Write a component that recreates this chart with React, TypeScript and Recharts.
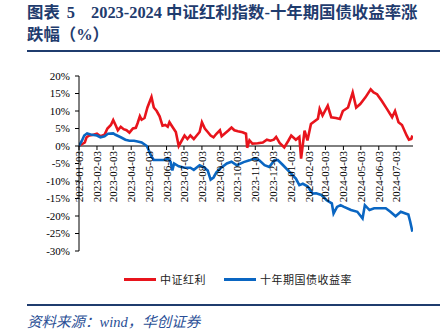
import { LineChart, Line, XAxis, YAxis, ReferenceLine } from "recharts";

// ================= DATA =================
const monthTicks = [
  "2023-01-03", "2023-02-03", "2023-03-03", "2023-04-03", "2023-05-03",
  "2023-06-03", "2023-07-03", "2023-08-03", "2023-09-03", "2023-10-03",
  "2023-11-03", "2023-12-03", "2024-01-03", "2024-02-03", "2024-03-03",
  "2024-04-03", "2024-05-03", "2024-06-03", "2024-07-03",
];
const yTicks = [-30, -25, -20, -15, -10, -5, 0, 5, 10, 15, 20];
const seriesNames = ["中证红利", "十年期国债收益率"];

// 中证红利 (%)
const dividend: [string, number][] = [
  ["2023-01-03", 0], ["2023-01-08", 0.5], ["2023-01-13", 1], ["2023-01-16", 2.5],
  ["2023-01-21", 3], ["2023-01-28", 3.2], ["2023-02-03", 3.5], ["2023-02-09", 2.8],
  ["2023-02-16", 3.2], ["2023-02-21", 5], ["2023-02-27", 6], ["2023-03-03", 7.4],
  ["2023-03-07", 6], ["2023-03-11", 4.5], ["2023-03-16", 5.5], ["2023-03-21", 4.8],
  ["2023-03-26", 4.5], ["2023-03-31", 3.8], ["2023-04-06", 5], ["2023-04-11", 5.2],
  ["2023-04-14", 6.5], ["2023-04-18", 8.5], ["2023-04-21", 7.5], ["2023-04-26", 8],
  ["2023-05-01", 11], ["2023-05-08", 14], ["2023-05-12", 11], ["2023-05-17", 10],
  ["2023-05-22", 8.5], ["2023-05-27", 5.8], ["2023-06-01", 6], ["2023-06-05", 5.5],
  ["2023-06-08", 6.8], ["2023-06-13", 5.5], ["2023-06-19", 4], ["2023-06-24", 0],
  ["2023-06-29", 1.5], ["2023-07-04", 3], ["2023-07-09", 2], ["2023-07-14", 3],
  ["2023-07-20", 2], ["2023-07-25", 3], ["2023-07-30", 4], ["2023-08-03", 6.8],
  ["2023-08-08", 5], ["2023-08-13", 4], ["2023-08-18", 3], ["2023-08-23", 2.5],
  ["2023-08-28", 3.5], ["2023-09-03", 4.5], ["2023-09-06", 2.8], ["2023-09-11", 3.5],
  ["2023-09-18", 4.5], ["2023-09-23", 5.3], ["2023-09-28", 4.5], ["2023-10-04", 4.2],
  ["2023-10-12", 3.9], ["2023-10-18", 3.5], ["2023-10-20", -0.5], ["2023-10-24", 1.6],
  ["2023-10-29", 0.7], ["2023-11-07", 0.8], ["2023-11-16", 1], ["2023-11-23", 1.8],
  ["2023-11-29", 1.5], ["2023-12-05", 1.8], ["2023-12-09", 2.6], ["2023-12-15", 0.9],
  ["2023-12-23", -0.4], ["2023-12-30", 1.5], ["2024-01-04", 3], ["2024-01-12", 1.8],
  ["2024-01-18", 2.6], ["2024-01-21", -3.6], ["2024-01-27", 4.4], ["2024-02-01", 1.6],
  ["2024-02-07", 6.3], ["2024-02-19", 7.8], ["2024-02-22", 10.6], ["2024-02-27", 8.7],
  ["2024-03-07", 11.5], ["2024-03-13", 8.2], ["2024-03-21", 8], ["2024-03-28", 7.7],
  ["2024-04-02", 10], ["2024-04-11", 11], ["2024-04-19", 15.3], ["2024-04-25", 11],
  ["2024-05-02", 12], ["2024-05-11", 13.9], ["2024-05-20", 16.2], ["2024-05-25", 15.3],
  ["2024-05-31", 14.8], ["2024-06-08", 12.9], ["2024-06-17", 10.6], ["2024-06-26", 8.2],
  ["2024-07-01", 10], ["2024-07-07", 6.8], ["2024-07-13", 6], ["2024-07-21", 3],
  ["2024-07-25", 1.8], ["2024-07-29", 2], ["2024-07-31", 3],
];

// 十年期国债收益率 (%)
const bondYield: [string, number][] = [
  ["2023-01-03", 0], ["2023-01-08", 1.5], ["2023-01-12", 3], ["2023-01-17", 3.6],
  ["2023-01-23", 3.3], ["2023-02-03", 3], ["2023-02-09", 2.5], ["2023-02-16", 2.8],
  ["2023-02-22", 3.5], ["2023-03-03", 3.6], ["2023-03-07", 3.2], ["2023-03-16", 2.5],
  ["2023-03-24", 1.8], ["2023-03-31", 1.5], ["2023-04-08", 1.5], ["2023-04-14", 1.3],
  ["2023-04-21", 1], ["2023-04-30", 0], ["2023-05-04", -1.5], ["2023-05-08", -3],
  ["2023-05-12", -4], ["2023-05-22", -4], ["2023-06-01", -4], ["2023-06-05", -3.5],
  ["2023-06-10", -4.5], ["2023-06-13", -7], ["2023-06-16", -5], ["2023-06-24", -5.8],
  ["2023-07-04", -6.2], ["2023-07-14", -6.2], ["2023-07-20", -6.8], ["2023-07-30", -5.5],
  ["2023-08-06", -6], ["2023-08-13", -7], ["2023-08-18", -9.6], ["2023-08-23", -9],
  ["2023-08-28", -7.5], ["2023-09-03", -6.5], ["2023-09-15", -5], ["2023-09-23", -4.5],
  ["2023-10-02", -5.5], ["2023-10-14", -4.6], ["2023-10-24", -4.1], ["2023-11-01", -3.6],
  ["2023-11-10", -4.1], ["2023-11-19", -5.5], ["2023-11-27", -6], ["2023-12-06", -4.1],
  ["2023-12-12", -4], ["2023-12-21", -5.5], ["2024-01-01", -7.4], ["2024-01-12", -9.3],
  ["2024-01-18", -11.2], ["2024-01-24", -10.8], ["2024-02-01", -11.5], ["2024-02-10", -13.6],
  ["2024-02-16", -13.5], ["2024-02-25", -14], ["2024-03-05", -15.5], ["2024-03-14", -16.4],
  ["2024-03-17", -19.3], ["2024-03-23", -17.4], ["2024-03-29", -16.9], ["2024-04-04", -17.4],
  ["2024-04-16", -18.3], ["2024-04-27", -18.8], ["2024-05-06", -20.7], ["2024-05-10", -16.9],
  ["2024-05-18", -18.3], ["2024-05-26", -17.8], ["2024-06-05", -17.8], ["2024-06-15", -17.8],
  ["2024-06-23", -18.8], ["2024-07-02", -20.1], ["2024-07-11", -18.8], ["2024-07-19", -19.3],
  ["2024-07-24", -19.6], ["2024-07-27", -21.5], ["2024-07-31", -24.5],
];

const domainStart = "2023-01-03";
const domainEnd = "2024-08-01";

// ================= HELPERS =================
const toTime = (d: string) => Date.parse(d + "T00:00:00Z");
const toRows = (s: [string, number][]) => s.map(([d, v]) => ({ t: toTime(d), v }));

const RED = "#e8141c";
const BLUE = "#0a66c2";
const NAVY = "#1f3c6e";
const SOURCE_BLUE = "#2a4f96";
const SERIF = '"Liberation Serif", "Times New Roman", serif';
const CJK = '"Liberation Serif", "Noto Sans CJK SC", serif';

const TOP = 76;
const BOTTOM = 80;
const H = 332;
const PLOT_H = H - TOP - BOTTOM - 1;
const ZERO_Y = TOP + (PLOT_H * 20) / 50;

// eslint-disable-next-line
function DateTick({ x, payload }: any) {
  const d = new Date(payload.value).toISOString().slice(0, 10);
  return (
    <g>
      <line x1={x} x2={x} y1={ZERO_Y} y2={ZERO_Y + 4} stroke="#000" />
      <text
        x={x}
        y={ZERO_Y + 5}
        transform={`rotate(-90 ${x} ${ZERO_Y + 5})`}
        textAnchor="end"
        dominantBaseline="central"
        fontSize={11}
        fontFamily={SERIF}
        fill="#000"
      >
        {d}
      </text>
    </g>
  );
}

export default function App() {
  return (
    <div
      style={{
        position: "absolute",
        left: 0,
        top: 0,
        width: 446,
        height: 332,
        background: "#fff",
        overflow: "hidden",
      }}
    >
      {/* ================= TITLE ================= */}
      <div
        style={{
          position: "absolute",
          left: 27,
          top: 2,
          width: 420,
          fontFamily: CJK,
          fontWeight: 700,
          fontSize: 16.4,
          lineHeight: "22px",
          color: NAVY,
          whiteSpace: "nowrap",
        }}
      >
        <div>
          图表<span style={{ marginLeft: 7 }}>5</span>
          <span style={{ marginLeft: 16 }}>2023-2024 中证红利指数-十年期国债收益率涨</span>
        </div>
        <div>跌幅（%）</div>
      </div>
      <div
        style={{
          position: "absolute",
          left: 27,
          top: 50,
          width: 413,
          height: 2,
          background: NAVY,
        }}
      />

      {/* ================= CHART ================= */}
      <div style={{ position: "absolute", left: 0, top: 0 }}>
        <LineChart
          width={446}
          height={H}
          margin={{ top: TOP, right: 33, bottom: BOTTOM, left: 0 }}
        >
          <XAxis
            type="number"
            dataKey="t"
            domain={[toTime(domainStart), toTime(domainEnd)]}
            ticks={monthTicks.map(toTime)}
            tick={<DateTick />}
            axisLine={false}
            tickLine={false}
            height={1}
            interval={0}
            allowDataOverflow
          />
          <YAxis
            type="number"
            domain={[-30, 20]}
            ticks={yTicks}
            interval={0}
            width={79}
            tickFormatter={(v) => `${v}%`}
            tick={{ fontSize: 11, fontFamily: SERIF, fill: "#000" }}
            tickSize={4}
            tickMargin={5}
            axisLine={{ stroke: "#000" }}
            tickLine={{ stroke: "#000" }}
          />
          <ReferenceLine y={0} stroke="#000" strokeWidth={1} />
          <Line
            data={toRows(dividend)}
            dataKey="v"
            name={seriesNames[0]}
            stroke={RED}
            strokeWidth={2.6}
            dot={false}
            type="linear"
            isAnimationActive={false}
          />
          <Line
            data={toRows(bondYield)}
            dataKey="v"
            name={seriesNames[1]}
            stroke={BLUE}
            strokeWidth={2.6}
            dot={false}
            type="linear"
            isAnimationActive={false}
          />
        </LineChart>
      </div>

      {/* ================= LEGEND ================= */}
      <div
        style={{
          position: "absolute",
          left: 124,
          top: 271,
          display: "flex",
          alignItems: "center",
          fontFamily: '"Noto Sans CJK SC", sans-serif',
          fontSize: 11,
          color: "#222",
          whiteSpace: "nowrap",
        }}
      >
        <span style={{ width: 32, height: 3, background: RED, display: "inline-block" }} />
        <span style={{ marginLeft: 4, letterSpacing: 0.5 }}>{seriesNames[0]}</span>
        <span
          style={{
            width: 32,
            height: 3,
            background: BLUE,
            display: "inline-block",
            marginLeft: 18,
          }}
        />
        <span style={{ marginLeft: 4, letterSpacing: 0.5 }}>{seriesNames[1]}</span>
      </div>

      {/* ================= SOURCE ================= */}
      <div
        style={{
          position: "absolute",
          left: 27,
          top: 304,
          width: 413,
          height: 2,
          background: NAVY,
        }}
      />
      <div
        style={{
          position: "absolute",
          left: 27,
          top: 310,
          fontFamily: CJK,
          fontStyle: "italic",
          fontSize: 14.5,
          color: SOURCE_BLUE,
          whiteSpace: "nowrap",
        }}
      >
        资料来源：wind，华创证券
      </div>
    </div>
  );
}
